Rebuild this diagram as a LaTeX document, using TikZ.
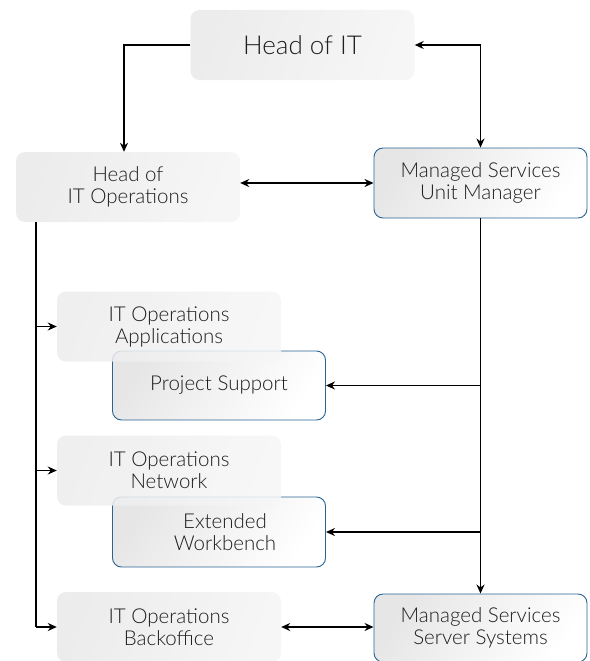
\documentclass[tikz,border=0pt]{standalone}
\usepackage{fontspec}
\setmainfont{Lato Light}
\usepackage{tikz}
\usetikzlibrary{arrows.meta}
\usetikzlibrary{positioning}
\definecolor{txt}{HTML}{1E1E1E}
\definecolor{gdark}{HTML}{ECECEC}
\definecolor{glight}{HTML}{F6F6F6}
\definecolor{bdark}{HTML}{E6E6E6}
\definecolor{msblue}{HTML}{2A6496}
\tikzstyle{gbox}=[rectangle,rounded corners=9pt,left color=gdark,right color=glight,shading angle=70,minimum width=224pt,minimum height=70pt,align=center,text=txt,font=\fontsize{20.5}{22}\selectfont]
\tikzstyle{bbox}=[gbox,draw=msblue,line width=0.9pt,left color=bdark,right color=white,shading angle=55,minimum width=213pt]
\tikzstyle{link}=[-{Stealth[length=9pt,width=8pt]},line width=1.5pt]
\tikzstyle{link2}=[{Stealth[length=9pt,width=8pt]}-{Stealth[length=9pt,width=8pt]},line width=1.5pt]
\begin{document}
\begin{tikzpicture}[x=1pt,y=-1pt]
\useasboundingbox (0,0) rectangle (589,661);
      \node [gbox,font=\fontsize{26}{28}\selectfont] (head) at (302.5,45) {Head of IT};
      \node [gbox] (headops) at (128,187) {Head of\\IT Operations};
      \node [bbox] (msunit) at (480.5,183) {Managed Services\\Unit Manager};
      \node [bbox,minimum height=69pt] (projsup) at (219,385.5) {Project Support};
      \node [gbox,fill opacity=0.85,text opacity=1] (opsapp) at (169,326.5) {IT Operations\\Applications};
      \node [bbox] (extwb) at (219,532) {\hspace*{12pt}Extended\\\hspace*{12pt}Workbench};
      \node [gbox,fill opacity=0.85,text opacity=1] (opsnet) at (169,470.5) {IT Operations\\Network};
      \node [gbox] (opsback) at (169,627) {IT Operations\\Backoffice};
      \node [bbox,minimum height=68pt] (msserver) at (480.5,628) {Managed Services\\Server Systems};
      % top level
      \draw [link] (head.west) -| ([xshift=-4pt]headops.north);
      \draw [link2] (head.east) -| (msunit.north);
      \draw [link2] (headops.east |- msunit.west) -- (msunit.west);
      % operations bus
      \coordinate (lbus) at ([xshift=20pt]headops.south west);
      \coordinate (lend) at (lbus |- opsback.west);
      \draw [line width=1.5pt] (lbus) -- (lend);
      \draw [link] (lbus |- opsapp.west) -- (opsapp.west);
      \draw [link] (lbus |- opsnet.west) -- (opsnet.west);
      \draw [link] (lend) -- (opsback.west);
      % managed services bus
      \draw [link] (msunit.south) -- (msserver.north);
      \draw [link] (msunit.south |- projsup.east) -- (projsup.east);
      \draw [link] (msunit.south |- extwb.east) -- (extwb.east);
      \draw [link2] (opsback.east) -- (msserver.west |- opsback.east);
    \end{tikzpicture}
\end{document}
